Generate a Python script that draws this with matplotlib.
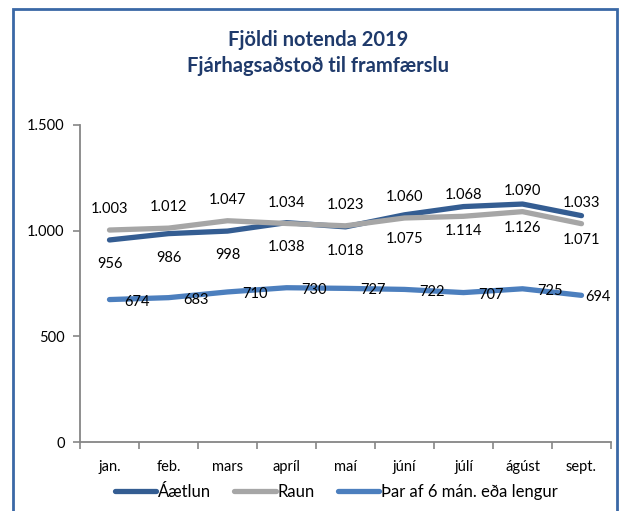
import matplotlib
matplotlib.use("Agg")
import matplotlib.pyplot as plt
from matplotlib.patches import Rectangle
from matplotlib.ticker import FuncFormatter

plt.rcParams['font.family'] = ['Lato', 'DejaVu Sans']

# Data
months = ["jan.", "feb.", "mars", "apríl", "maí", "júní", "júlí", "ágúst", "sept."]
aaetlun = [956, 986, 998, 1038, 1018, 1075, 1114, 1126, 1071]
raun = [1003, 1012, 1047, 1034, 1023, 1060, 1068, 1090, 1033]
thar_af = [674, 683, 710, 730, 727, 722, 707, 725, 694]

c_aaetlun = "#345D92"
c_raun = "#A6A6A6"
c_thar = "#4C7FBE"

fig = plt.figure(figsize=(6.22, 5.11), dpi=100)
ax = fig.add_axes([80 / 622, 69 / 511, 531 / 622, 317 / 511])

x = list(range(len(months)))
lw = 3.8
ax.plot(x, aaetlun, color=c_aaetlun, lw=lw, solid_capstyle="round", label="Áætlun")
ax.plot(x, raun, color=c_raun, lw=lw, solid_capstyle="round", label="Raun")
ax.plot(x, thar_af, color=c_thar, lw=lw, solid_capstyle="round",
        label="Þar af 6 mán. eða lengur")

def fmt(v):
    return f"{v:,.0f}".replace(",", ".")

# Data labels
fs = 10.5
for i in x:
    ax.annotate(fmt(raun[i]), (i, raun[i]), textcoords="offset points",
                xytext=(0, 15), ha="center", va="center", fontsize=fs)
    ax.annotate(fmt(aaetlun[i]), (i, aaetlun[i]), textcoords="offset points",
                xytext=(0, -17.5), ha="center", va="center", fontsize=fs)
    dx = 20 if i < len(x) - 1 else 12
    ax.annotate(fmt(thar_af[i]), (i, thar_af[i]), textcoords="offset points",
                xytext=(dx, -1.5), ha="center", va="center", fontsize=fs,
                annotation_clip=False)

ax.set_xlim(-0.5, len(months) - 0.5)
ax.set_ylim(0, 1500)
ax.set_yticks([0, 500, 1000, 1500])
ax.yaxis.set_major_formatter(FuncFormatter(lambda v, p: fmt(v)))
ax.set_xticks(x)
ax.set_xticklabels(months)
ax.set_xticks([i - 0.5 for i in range(len(months) + 1)], minor=True)
ax.tick_params(axis="x", which="major", length=0, pad=13, labelsize=fs)
ax.tick_params(axis="x", which="minor", length=5, color="#868686", width=1.2)
ax.tick_params(axis="y", length=5, color="#868686", width=1.2, pad=6, labelsize=fs)

for s in ["top", "right"]:
    ax.spines[s].set_visible(False)
for s in ["left", "bottom"]:
    ax.spines[s].set_color("#868686")
    ax.spines[s].set_linewidth(1.3)

fig.text(318 / 622, 1 - 40 / 511, "Fjöldi notenda 2019", ha="center", va="center",
         fontsize=14.5, fontweight="bold", color="#1F3A6B")
fig.text(318 / 622, 1 - 66 / 511, "Fjárhagsaðstoð til framfærslu", ha="center",
         va="center", fontsize=14.5, fontweight="bold", color="#1F3A6B")

fig.legend(loc="center", bbox_to_anchor=(336 / 622, 1 - 492 / 511), ncol=3,
           frameon=False, fontsize=12, handlelength=2.5, handletextpad=0.08,
           columnspacing=1.4)

# Outer border
fig.patches.append(Rectangle((12.5 / 622, -0.05), 604.5 / 622, 1.05 - 9 / 511,
                             transform=fig.transFigure, fill=False,
                             edgecolor="#3A68A6", lw=2, clip_on=False))

fig.savefig("out.png", dpi=100)
